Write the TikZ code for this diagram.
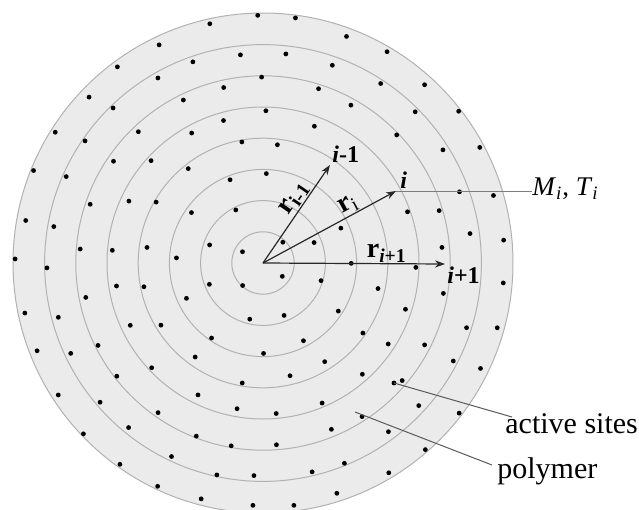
\documentclass[tikz,border=0pt]{standalone}
\usepackage{fontspec}
\setmainfont{Liberation Serif}
\usetikzlibrary{arrows.meta}
\definecolor{discfill}{RGB}{235,235,235}
\definecolor{ringline}{RGB}{178,178,178}
\definecolor{rayline}{RGB}{40,40,40}
\definecolor{leadline}{RGB}{90,90,90}
\tikzset{
  ring/.style={draw=ringline,line width=0.5pt},
  site/.style={fill=black},
  ray/.style={draw=rayline,line width=0.6pt,-{Stealth[length=5pt,width=3.6pt]}},
  tag/.style={font=\fontsize{12}{14}\selectfont\bfseries,inner sep=1pt},
  rlabel/.style={font=\fontsize{14}{16}\selectfont,inner sep=0.5pt},
  lead/.style={draw=leadline,line width=0.5pt},
  note/.style={font=\fontsize{15}{18}\selectfont,inner sep=0pt},
}
\begin{document}
\begin{tikzpicture}[x=0.5pt,y=-0.5pt]
\useasboundingbox (0,0) rectangle (639,510);
\coordinate (O) at (263,263);
% disc with rings
\fill[discfill] (O) circle (250);
\foreach \k in {1,...,7}
  \draw[ring] (O) circle (31.2*\k);
\draw[ring] (O) circle (250);
% active sites, kept clear of the labels
\pgfmathsetseed{5}
\foreach \rr/\nn in {27/4,57/8,88/12,119/16,150/21,182/25,213/29,244/33}{
  \foreach \k in {1,...,\nn}{
    \pgfmathsetmacro\aa{360*(\k+0.35*rnd)/\nn+\rr}
    \pgfmathsetmacro\dd{\rr+8*rnd-4}
    \pgfmathsetmacro\px{263+\dd*cos(\aa)}
    \pgfmathsetmacro\py{263+\dd*sin(\aa)}
    \pgfmathsetmacro\gap{min(veclen(\px-292,\py-195),veclen(\px-349,\py-203),
      veclen(\px-387,\py-252),veclen(\px-343,\py-154),veclen(\px-403,\py-179),
      veclen(\px-462,\py-270))}
    \pgfmathparse{\gap>24 ? 1 : 0}
    \ifnum\pgfmathresult=1
      \fill[site] (\px,\py) circle (2.4);
    \fi
  }
}
\coordinate (site) at (394,383);
\fill[site] (site) circle (2.4);
% radii
\coordinate (tipA) at (330,165);
\coordinate (tipB) at (396,191);
\coordinate (tipC) at (445,264);
\draw[ray] (O) -- (tipA) node[rlabel,pos=0.6,sloped,above] {\textbf{r}\textsubscript{\textbf{i-1}}};
\draw[ray] (O) -- (tipB) node[rlabel,pos=0.68,sloped,above] {\textbf{r}\textsubscript{i}};
\draw[ray] (O) -- (tipC) node[rlabel,pos=0.68,above] {\textbf{r}\textsubscript{\textbf{\textit{i}+1}}};
\node[tag,anchor=south west] (lblA) at (tipA) {\textit{i}-1};
\node[tag,anchor=south west] (lblB) at ([xshift=1pt]tipB) {\textit{i}};
\node[tag,anchor=north west] (lblC) at (tipC) {\textit{i}+1};
% labels on the right
\node[note,anchor=base west,font=\fontsize{13.5}{16}\selectfont] (mt) at (532,195)
  {\textit{M}\textsubscript{\textit{i}}, \textit{T}\textsubscript{\textit{i}}};
\draw[lead,draw=ringline!70!black] (tipB) -- (mt.west |- tipB);
\node[note,anchor=base west] (actv) at (505,433) {active sites};
\node[note,anchor=base west] (poly) at (497,478) {polymer};
\coordinate (actvEnd) at (512,417);
\coordinate (polyStart) at (355,412);
\coordinate (polyEnd) at (492,465);
\draw[lead] (site) -- (actvEnd);
\draw[lead] (polyStart) -- (polyEnd);
\end{tikzpicture}
\end{document}
